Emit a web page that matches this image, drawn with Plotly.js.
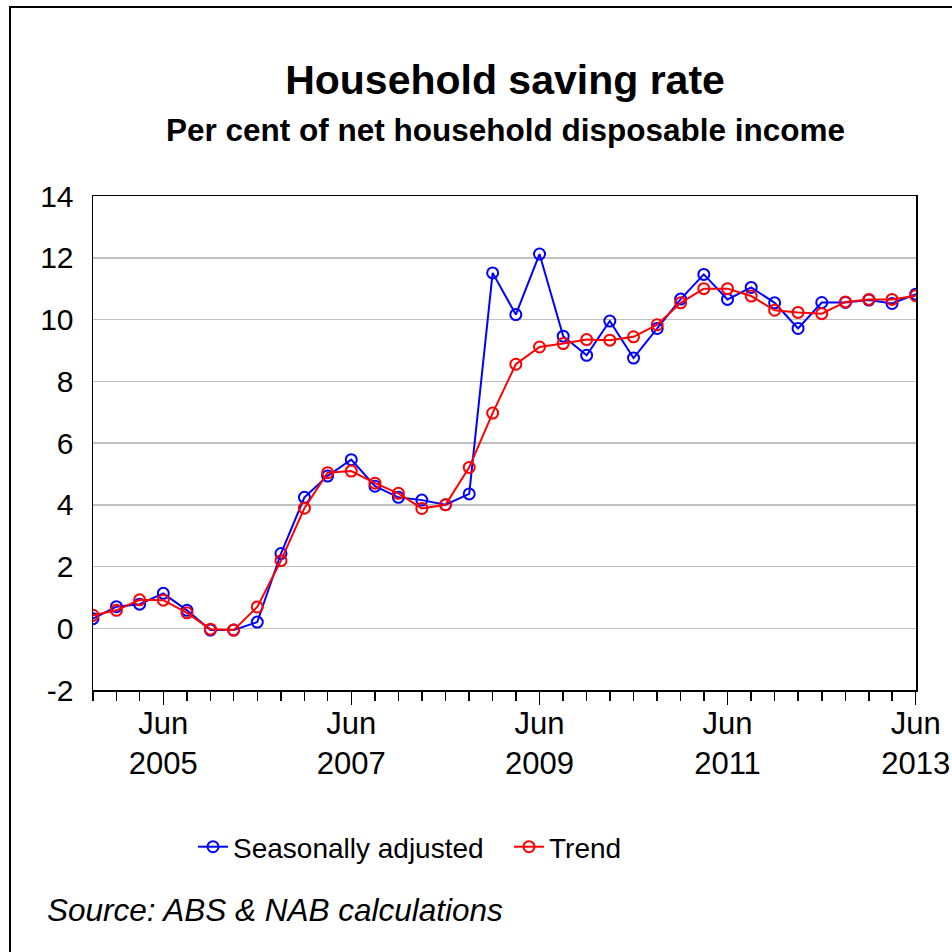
<!DOCTYPE html>
<html>
<head>
<meta charset="utf-8">
<script src="https://cdn.plot.ly/plotly-3.0.1.min.js"></script>
<style>
html,body{margin:0;padding:0;background:#fff;}
#chart{width:952px;height:952px;}
</style>
</head>
<body>
<div id="chart"></div>
<script>
// Quarter dates (Sep 2004 .. Jun 2013)
var quarters = [
  "2004-09-01","2004-12-01","2005-03-01","2005-06-01",
  "2005-09-01","2005-12-01","2006-03-01","2006-06-01",
  "2006-09-01","2006-12-01","2007-03-01","2007-06-01",
  "2007-09-01","2007-12-01","2008-03-01","2008-06-01",
  "2008-09-01","2008-12-01","2009-03-01","2009-06-01",
  "2009-09-01","2009-12-01","2010-03-01","2010-06-01",
  "2010-09-01","2010-12-01","2011-03-01","2011-06-01",
  "2011-09-01","2011-12-01","2012-03-01","2012-06-01",
  "2012-09-01","2012-12-01","2013-03-01","2013-06-01"
];
var seasonallyAdjusted = [
  0.31, 0.70, 0.78, 1.13,
  0.58, -0.06, -0.06, 0.20,
  2.42, 4.24, 4.93, 5.46,
  4.60, 4.24, 4.15, 4.00,
  4.35, 11.51, 10.16, 12.12,
  9.46, 8.84, 9.95, 8.75,
  9.71, 10.66, 11.46, 10.65,
  11.04, 10.54, 9.71, 10.55,
  10.55, 10.63, 10.52, 10.82
];
var trend = [
  0.42, 0.58, 0.92, 0.91,
  0.50, -0.03, -0.06, 0.69,
  2.19, 3.89, 5.04, 5.09,
  4.70, 4.37, 3.88, 4.00,
  5.21, 6.97, 8.55, 9.11,
  9.22, 9.35, 9.33, 9.44,
  9.83, 10.54, 11.00, 11.00,
  10.76, 10.30, 10.23, 10.19,
  10.57, 10.65, 10.65, 10.77
];
var xTickVals = ["2005-06-01","2007-06-01","2009-06-01","2011-06-01","2013-06-01"];
var xTickText = ["Jun<br>2005","Jun<br>2007","Jun<br>2009","Jun<br>2011","Jun<br>2013"];
var yTickVals = [-2,0,2,4,6,8,10,12,14];
var yTickText = ["-2","0","2","4","6","8","10","12","14"];
var seriesNames = ["Seasonally adjusted","Trend"];

var FONT = "'Liberation Sans', Arial, Helvetica, sans-serif";

// plot area in pixels
var L = 93, R = 916, T = 196, B = 690, W = 952, H = 952;
function px(x){ return (x - L) / (R - L); }
function py(y){ return (B - y) / (B - T); }

var traces = [
  {
    x: quarters, y: seasonallyAdjusted, name: seriesNames[0],
    type: "scatter", mode: "lines+markers",
    line: {color: "#0000ff", width: 2},
    marker: {symbol: "circle-open", size: 11, color: "#0000ff", line: {width: 2, color: "#0000ff"}}
  },
  {
    x: quarters, y: trend, name: seriesNames[1],
    type: "scatter", mode: "lines+markers",
    line: {color: "#ff0000", width: 2},
    marker: {symbol: "circle-open", size: 11, color: "#ff0000", line: {width: 2, color: "#ff0000"}}
  }
];

var layout = {
  width: W, height: H,
  margin: {l: L, r: W - R, t: T, b: H - B, pad: 0},
  paper_bgcolor: "#ffffff",
  plot_bgcolor: "#ffffff",
  font: {family: FONT, color: "#000000", size: 30},
  title: {
    text: "<b>Household saving rate</b>",
    font: {family: FONT, size: 41, color: "#000000"},
    x: 505 / W, xref: "container", xanchor: "center",
    y: 1 - 80 / H, yref: "container", yanchor: "middle"
  },
  showlegend: true,
  legend: {
    orientation: "h",
    x: px(193), xanchor: "left",
    y: py(847), yanchor: "middle",
    font: {family: FONT, size: 28, color: "#000000"},
    bgcolor: "rgba(0,0,0,0)",
    entrywidth: 271, entrywidthmode: "pixels",
    tracegroupgap: 0
  },
  xaxis: {
    type: "date",
    range: ["2004-09-01", "2013-06-02"],
    tickmode: "array",
    tickvals: xTickVals,
    ticktext: xTickText,
    ticks: "outside", ticklen: 13, tickwidth: 1.5, tickcolor: "#000",
    ticklabelstandoff: -8,
    minor: {ticks: "outside", ticklen: 9, tickwidth: 1.5, tickcolor: "#000", dtick: "M3", tick0: "2004-09-01", showgrid: false},
    tickfont: {family: FONT, size: 31, color: "#000"},
    showgrid: false,
    showline: true, linecolor: "#000", linewidth: 1.5, mirror: true,
    zeroline: false,
    fixedrange: true
  },
  yaxis: {
    range: [-2, 14],
    tickmode: "array",
    tickvals: yTickVals,
    ticktext: yTickText,
    ticks: "",
    ticklabelstandoff: 12,
    tickfont: {family: FONT, size: 30, color: "#000"},
    showgrid: true, gridcolor: "#c0c0c0", gridwidth: 1.5,
    showline: true, linecolor: "#000", linewidth: 1.5, mirror: true,
    zeroline: false,
    fixedrange: true
  },
  annotations: [
    {
      text: "<b>Per cent of net household disposable income</b>",
      xref: "paper", yref: "paper",
      x: px(505), y: py(130), xanchor: "center", yanchor: "middle",
      showarrow: false,
      font: {family: FONT, size: 31.5, color: "#000"}
    },
    {
      text: "<i>Source: ABS &amp; NAB calculations</i>",
      xref: "paper", yref: "paper",
      x: px(45), y: py(910), xanchor: "left", yanchor: "middle",
      showarrow: false,
      font: {family: FONT, size: 31.5, color: "#000"}
    }
  ],
  shapes: [
    {
      type: "rect", xref: "paper", yref: "paper",
      x0: px(10), x1: px(980), y0: py(980), y1: py(7),
      line: {color: "#000", width: 2}, fillcolor: "rgba(0,0,0,0)", layer: "above"
    }
  ]
};

Plotly.newPlot("chart", traces, layout, {displayModeBar: false, staticPlot: true});
</script>
</body>
</html>
